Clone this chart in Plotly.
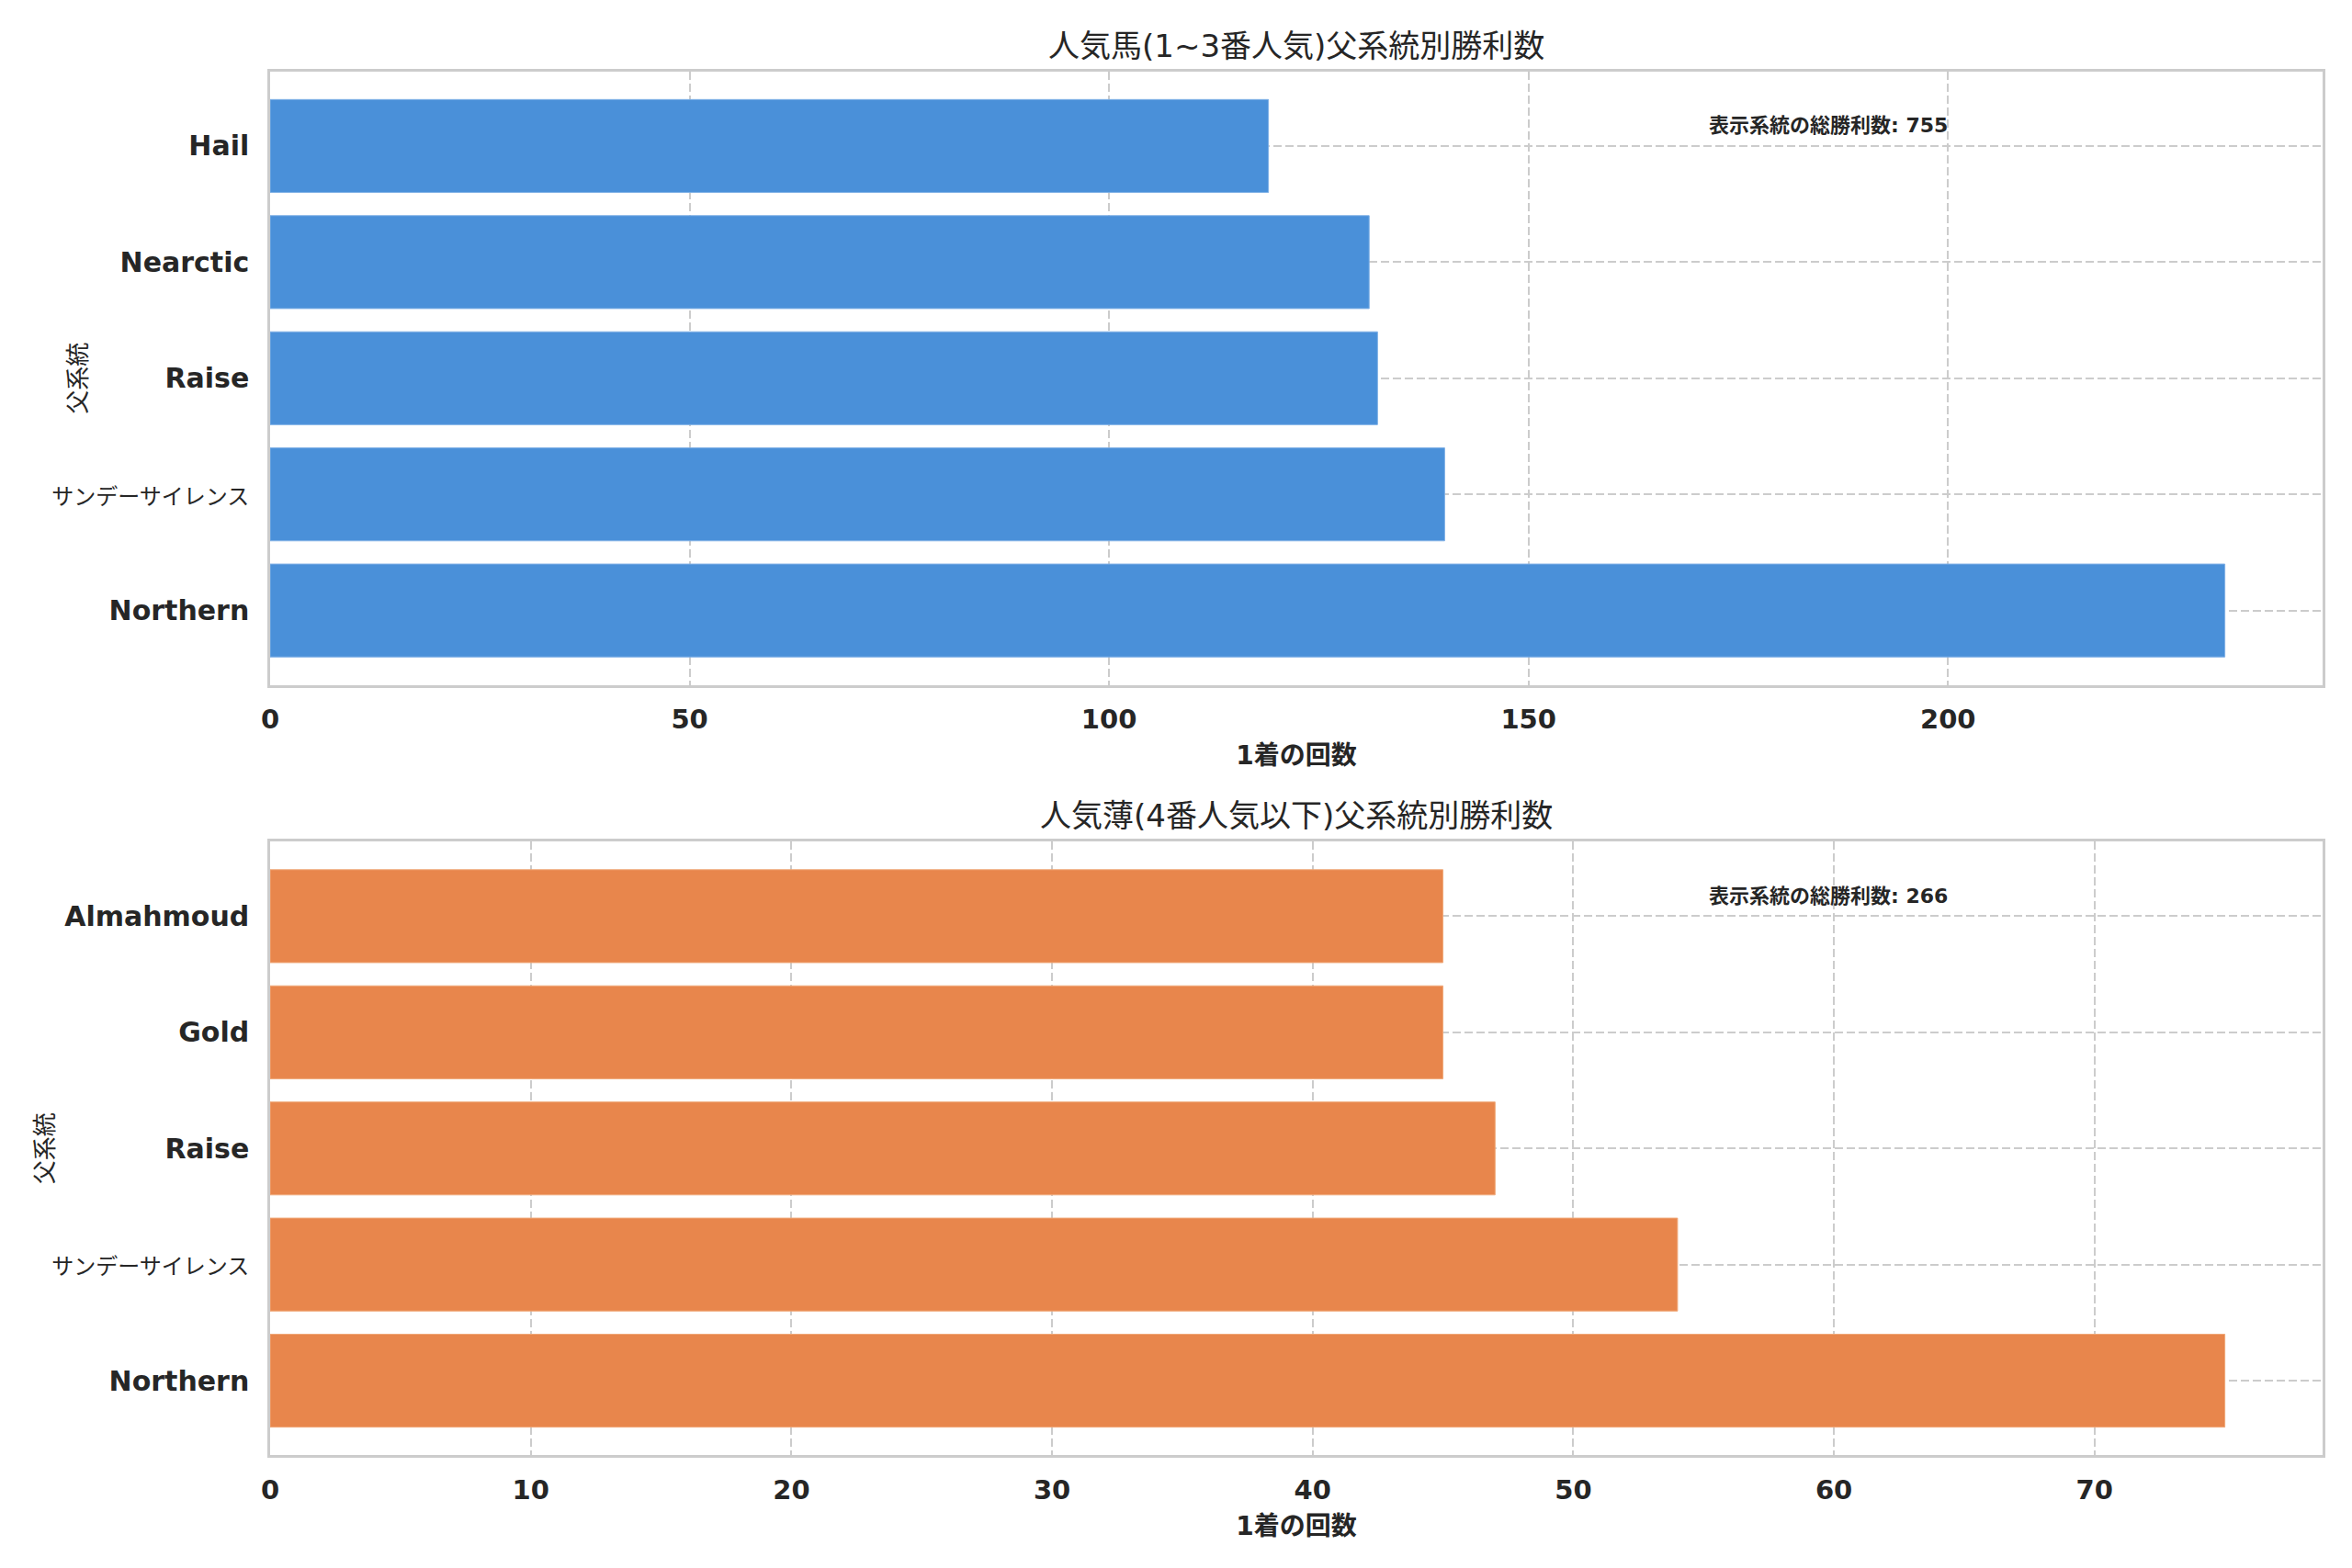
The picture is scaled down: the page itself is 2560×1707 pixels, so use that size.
import plotly.graph_objects as go
from plotly.subplots import make_subplots

# 人気馬(1~3番人気) の父系統別勝利数
top_lines = ["Northern", "サンデーサイレンス", "Raise", "Nearctic", "Hail"]
top_wins = [233, 140, 132, 131, 119]

# 人気薄(4番人気以下)
low_lines = ["Northern", "サンデーサイレンス", "Raise", "Gold", "Almahmoud"]
low_wins = [75, 54, 47, 45, 45]

top_title = "人気馬(1~3番人気)父系統別勝利数"
low_title = "人気薄(4番人気以下)父系統別勝利数"
x_label = "1着の回数"
y_label = "父系統"
total_label = "表示系統の総勝利数"

BLUE = "#4a90d9"
ORANGE = "#e8864c"
TXT = "#262626"
GRID = "#cccccc"
FONT = "DejaVu Sans, Noto Sans CJK JP"


def tick_text(names):
    # 英字は太字、日本語は通常体
    out = []
    for n in names:
        if n.isascii():
            out.append(f"<b>{n}</b>")
        else:
            out.append(f"<span style='font-size:24px'>{n}</span>")
    return out


fig = make_subplots(rows=2, cols=1, vertical_spacing=0.1135)

fig.add_trace(go.Bar(x=top_wins, y=top_lines, orientation="h",
                     marker=dict(color=BLUE, line=dict(color="#7fb0e6", width=1))),
              row=1, col=1)
fig.add_trace(go.Bar(x=low_wins, y=low_lines, orientation="h",
                     marker=dict(color=ORANGE, line=dict(color="#f0a878", width=1))),
              row=2, col=1)

axis_common = dict(showline=True, linecolor=GRID, linewidth=2.5, mirror=True,
                   showgrid=True, gridcolor=GRID, gridwidth=2, griddash="9px,4px",
                   zeroline=False, ticks="", automargin=False)

fig.update_xaxes(**axis_common, ticklabelstandoff=10,
                 tickfont=dict(family=FONT, size=29, color=TXT, weight="bold"),
                 title=dict(text=x_label, standoff=14,
                            font=dict(family=FONT, size=28, color=TXT, weight="bold")))
fig.update_yaxes(**axis_common, ticklabelstandoff=14, range=[-0.64, 4.64],
                 tickfont=dict(family=FONT, size=30, color=TXT))

fig.update_xaxes(range=[0, max(top_wins) * 1.05], tickvals=[0, 50, 100, 150, 200], row=1, col=1)
fig.update_xaxes(range=[0, max(low_wins) * 1.05], tickvals=list(range(0, 80, 10)), row=2, col=1)
fig.update_yaxes(tickvals=top_lines, ticktext=tick_text(top_lines), row=1, col=1)
fig.update_yaxes(tickvals=low_lines, ticktext=tick_text(low_lines), row=2, col=1)

for ref, title, vals, ylab_shift in [("", top_title, top_wins, -209), ("2", low_title, low_wins, -245)]:
    fig.add_annotation(text=title, xref=f"x{ref} domain", yref=f"y{ref} domain",
                       x=0.5, y=1, yanchor="bottom", yshift=6, showarrow=False,
                       font=dict(family=FONT, size=34, color=TXT))
    fig.add_annotation(text=f"{total_label}: <b>{sum(vals)}</b>",
                       xref=f"x{ref} domain", yref=f"y{ref} domain",
                       x=0.7, y=0.912, xanchor="left", yanchor="middle", showarrow=False,
                       font=dict(family=FONT, size=22, color=TXT, weight="bold"))
    fig.add_annotation(text=y_label, textangle=-90, xref=f"x{ref} domain", yref=f"y{ref} domain",
                       x=0, y=0.5, xshift=ylab_shift, xanchor="center", showarrow=False,
                       font=dict(family=FONT, size=26, color=TXT))

# ページ本体の余白(8px)の分だけ左上をずらす
fig.update_layout(width=2560, height=1707, showlegend=False, bargap=0.2,
                  plot_bgcolor="white", paper_bgcolor="white",
                  margin=dict(l=286, r=40, t=70, b=131),
                  font=dict(family=FONT, color=TXT))

fig.write_html("out.html")
